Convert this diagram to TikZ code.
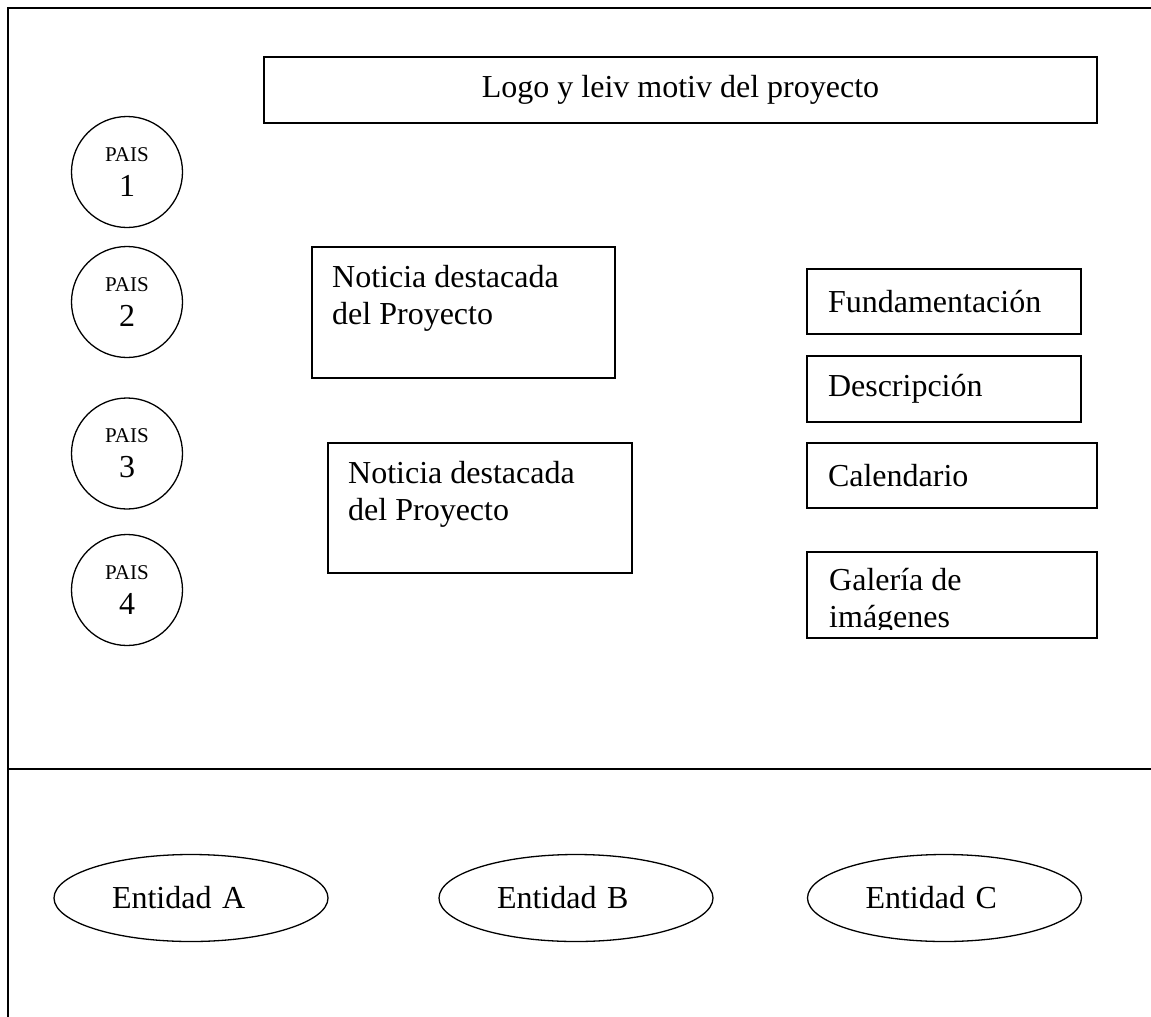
\documentclass[tikz,border=0pt]{standalone}
\usepackage{fontspec}
\setmainfont{Liberation Serif}
\usetikzlibrary{shapes.geometric}
\usetikzlibrary{positioning}
\newcommand{\grande}{\fontsize{32}{37}\selectfont}
\newcommand{\chico}{\fontsize{21}{24}\selectfont}
\tikzset{
  marco/.style={line width=2pt},
  pais/.style={draw, circle, line width=1.3pt, minimum size=111pt, inner sep=0pt, align=center, font=\fontsize{32}{35}\selectfont},
  caja/.style={draw, rectangle, line width=1.3pt, inner sep=0pt, outer sep=0pt},
  menu/.style={caja, inner xsep=21pt, align=left, font=\grande},
  noticia/.style={inner sep=0pt, anchor=north west, align=left, font=\grande},
  entidad/.style={draw, ellipse, line width=1.3pt, minimum width=274pt, minimum height=87pt, inner sep=0pt, text width=158pt, align=left, font=\grande}
}

\begin{document}
\begin{tikzpicture}[x=1pt,y=-1pt]
  \useasboundingbox (0,0) rectangle (1151,1017);

  % marco de la pagina
  \draw [marco] (1151,8) -- (8,8) -- (8,1017);
  \draw [marco] (8,769) -- (1151,769);

  \node [caja, minimum width=833pt, minimum height=66pt, font=\grande] (logo) at (680.5,90) {Logo y leiv motiv del proyecto};

  \node [pais] (pais1) at (127,172) {{\chico PAIS}\\1};
  \node [pais] (pais2) at (127,302) {{\chico PAIS}\\2};
  \node [pais] (pais3) at (127,453.5) {{\chico PAIS}\\3};
  \node [pais] (pais4) at (127,590) {{\chico PAIS}\\4};

  \node [caja, minimum width=303pt, minimum height=131pt] (noticia1) at (463.5,312.5) {};
  \node [noticia] (noticia1txt) at ([xshift=20pt,yshift=-18pt]noticia1.north west) {Noticia destacada\\del Proyecto};
  \node [caja, minimum width=304pt, minimum height=130pt] (noticia2) at (480,508) {};
  \node [noticia] (noticia2txt) at ([xshift=20pt,yshift=-18pt]noticia2.north west) {Noticia destacada\\del Proyecto};

  \node [menu, text width=232pt, minimum height=65pt] (fund) at (944,301.5) {Fundamentación};
  \node [menu, text width=232pt, minimum height=66pt, below right=22pt and 0pt of fund.south west] (desc) {Descripción};
  \node [menu, text width=248pt, minimum height=65pt, below right=21pt and 0pt of desc.south west] (cal) {Calendario};
  \node [caja, minimum width=290pt, minimum height=86pt, below right=44pt and 0pt of cal.south west] (galeria) {};
  \begin{scope}
    \clip (galeria.north west) rectangle ([yshift=9pt]galeria.south east);
    \node [noticia] (galeriatxt) at ([xshift=22pt,yshift=-16pt]galeria.north west) {Galería de\\imágenes};
  \end{scope}

  \node [entidad] (entA) at (191,898) {Entidad A};
  \node [entidad] (entB) at (576,898) {Entidad B};
  \node [entidad] (entC) at (944.5,898) {Entidad C};
\end{tikzpicture}
\end{document}
